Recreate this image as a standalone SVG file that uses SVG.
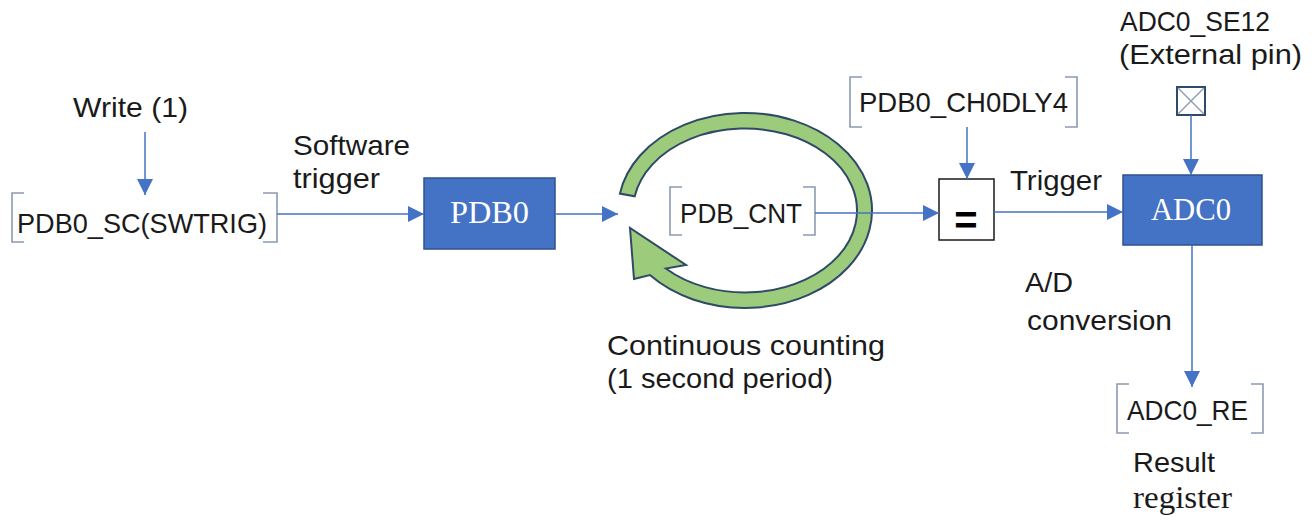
<svg xmlns="http://www.w3.org/2000/svg" width="1314" height="523" viewBox="0 0 1314 523">
<defs>
<style>
.t{font-family:"Liberation Sans",Arial,sans-serif;font-size:28px;fill:#1a1a1a}
.s{font-family:"Liberation Serif","Times New Roman",serif;font-size:32px}
.w{fill:#ffffff}
.box{fill:#4472C4;stroke:#2F528F;stroke-width:1.5}
.br{fill:none;stroke:#8A9BB3;stroke-width:1.6}
.c{fill:none;stroke:#4472C4;stroke-width:1.5}
</style>
<marker id="ah" viewBox="0 0 16 16" refX="16" refY="8" markerWidth="16" markerHeight="16" markerUnits="userSpaceOnUse" orient="auto">
<path d="M0,0 L16,8 L0,16 z" fill="#4472C4"/>
</marker>
</defs>
<rect width="1314" height="523" fill="#ffffff"/>

<g id="write-label">
<text class="t" x="73" y="117" textLength="115" lengthAdjust="spacingAndGlyphs">Write (1)</text>
</g>

<g id="pdb0-sc">
<path class="br" d="M24,193 H12 V242 H24 M263,193 H277 V242 H263"/>
<text class="t" x="17" y="233" textLength="250" lengthAdjust="spacingAndGlyphs">PDB0_SC(SWTRIG)</text>
</g>

<g id="software-trigger-label">
<text class="t" x="293" y="155" textLength="117" lengthAdjust="spacingAndGlyphs">Software</text>
<text class="t" x="293" y="188" textLength="87" lengthAdjust="spacingAndGlyphs">trigger</text>
</g>

<g id="pdb0">
<rect class="box" x="424" y="178" width="131" height="71"/>
<text class="s w" x="450" y="223" textLength="79" lengthAdjust="spacingAndGlyphs">PDB0</text>
</g>

<g id="counter-loop">
<path d="M619.9,193.6 A127 97.5 0 1 1 649.9,275.1 L634,279 L630,228 L686,265 L665.8,268.5 A112 82 0 1 0 634.7,196.3 Z" fill="#9CCB7C" stroke="#2F4A66" stroke-width="2" stroke-linejoin="miter"/>
</g>

<g id="pdb-cnt">
<path class="br" d="M682,187 H670 V235 H682 M803,187 H815 V235 H803"/>
<text class="t" x="680" y="223" textLength="122" lengthAdjust="spacingAndGlyphs">PDB_CNT</text>
</g>

<g id="continuous-label">
<text class="t" x="607" y="355" textLength="278" lengthAdjust="spacingAndGlyphs">Continuous counting</text>
<text class="t" x="607" y="388" textLength="226" lengthAdjust="spacingAndGlyphs">(1 second period)</text>
</g>

<g id="pdb0-ch0dly4">
<path class="br" d="M862,77 H850 V127 H862 M1065,77 H1077 V127 H1065"/>
<text class="t" x="859" y="112" textLength="209" lengthAdjust="spacingAndGlyphs">PDB0_CH0DLY4</text>
</g>

<g id="compare">
<rect x="939" y="179" width="55" height="61" fill="#ffffff" stroke="#1a1a1a" stroke-width="1.5"/>
<text x="966" y="234" text-anchor="middle" font-family="Liberation Sans, Arial, sans-serif" font-weight="bold" font-size="40" fill="#000">=</text>
</g>

<g id="trigger-label">
<text class="t" x="1010" y="190" textLength="92" lengthAdjust="spacingAndGlyphs">Trigger</text>
</g>

<g id="adc0-se12">
<text class="t" x="1120" y="31" textLength="150" lengthAdjust="spacingAndGlyphs">ADC0_SE12</text>
<text class="t" x="1119" y="64" textLength="183" lengthAdjust="spacingAndGlyphs">(External pin)</text>
<rect x="1177" y="87" width="28" height="28" fill="#ffffff" stroke="#2F4A66" stroke-width="2"/>
<path d="M1178,88 L1204,114 M1204,88 L1178,114" stroke="#8A9BB3" stroke-width="1.4"/>
</g>

<g id="adc0">
<rect class="box" x="1123" y="175" width="139" height="70"/>
<text class="s w" x="1151" y="220" textLength="80" lengthAdjust="spacingAndGlyphs">ADC0</text>
</g>

<g id="ad-label">
<text class="t" x="1025" y="292" textLength="48" lengthAdjust="spacingAndGlyphs">A/D</text>
<text class="t" x="1027" y="330" textLength="145" lengthAdjust="spacingAndGlyphs">conversion</text>
</g>

<g id="adc0-re">
<path class="br" d="M1129,384 H1117 V433 H1129 M1251,384 H1263 V433 H1251"/>
<text class="t" x="1127" y="420" textLength="121" lengthAdjust="spacingAndGlyphs">ADC0_RE</text>
</g>

<g id="result-label">
<text class="t" x="1133" y="472" textLength="82" lengthAdjust="spacingAndGlyphs">Result</text>
<text class="s" x="1133" y="508" fill="#1a1a1a" textLength="99" lengthAdjust="spacingAndGlyphs">register</text>
</g>

<g id="connectors">
<line class="c" x1="145" y1="132" x2="145" y2="195" marker-end="url(#ah)"/>
<line class="c" x1="277" y1="214" x2="424" y2="214" marker-end="url(#ah)"/>
<line class="c" x1="555" y1="214" x2="618" y2="214" marker-end="url(#ah)"/>
<line class="c" x1="815" y1="213" x2="939" y2="213" marker-end="url(#ah)"/>
<line class="c" x1="967" y1="127" x2="967" y2="179" marker-end="url(#ah)"/>
<line class="c" x1="994" y1="212" x2="1123" y2="212" marker-end="url(#ah)"/>
<line class="c" x1="1191" y1="115" x2="1191" y2="175" marker-end="url(#ah)"/>
<line class="c" x1="1192" y1="245" x2="1192" y2="387" marker-end="url(#ah)"/>
</g>
</svg>
